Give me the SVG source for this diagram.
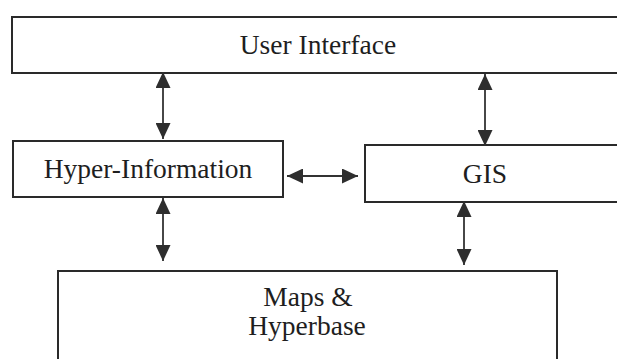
<svg xmlns="http://www.w3.org/2000/svg" width="617" height="359" viewBox="0 0 617 359">
  <style>
    .box { fill: #ffffff; stroke: #2a2a2a; stroke-width: 2; }
    .label { font-family: "Liberation Serif", "Times New Roman", serif; font-size: 27.5px; fill: #1e1e1e; text-anchor: middle; }
    .link { stroke: #333333; stroke-width: 1.8; fill: none; marker-start: url(#head); marker-end: url(#head); }
  </style>
  <defs>
    <marker id="head" viewBox="0 0 16 15" refX="16" refY="7.5" markerWidth="16" markerHeight="15" markerUnits="userSpaceOnUse" orient="auto-start-reverse">
      <path d="M0,0 L16,7.5 L0,15 Z" fill="#2e2e2e"/>
    </marker>
  </defs>
  <rect width="617" height="359" fill="#ffffff"/>

  <g id="user-interface">
    <rect class="box" x="12" y="17" width="620" height="56"/>
    <text class="label" x="318" y="54">User Interface</text>
  </g>

  <g id="hyper-information">
    <rect class="box" x="13" y="141" width="270" height="56"/>
    <text class="label" x="148" y="178">Hyper-Information</text>
  </g>

  <g id="gis">
    <rect class="box" x="365" y="145" width="270" height="57"/>
    <text class="label" x="485" y="183">GIS</text>
  </g>

  <g id="maps-hyperbase">
    <rect class="box" x="58" y="271" width="499" height="110"/>
    <text class="label" x="308" y="306">Maps &amp;</text>
    <text class="label" x="307" y="335">Hyperbase</text>
  </g>

  <g id="connectors">
    <line class="link" x1="163" y1="72" x2="163" y2="139"/>
    <line class="link" x1="485" y1="74" x2="485" y2="146"/>
    <line class="link" x1="287" y1="176" x2="358" y2="176"/>
    <line class="link" x1="163" y1="198" x2="163" y2="261"/>
    <line class="link" x1="464" y1="201" x2="464" y2="265"/>
  </g>
</svg>
